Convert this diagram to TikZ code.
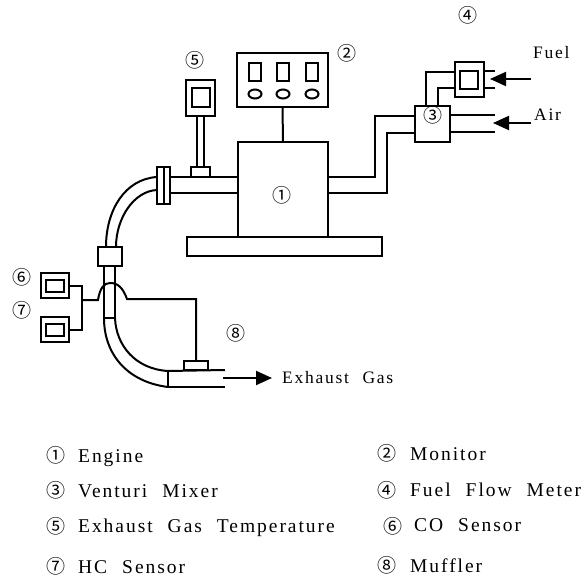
\documentclass[tikz,border=0pt]{standalone}
\usepackage{fontspec}
\setmainfont{Liberation Serif}
\newfontfamily\circfont{Noto Sans CJK JP}
\newfontfamily\lblfont[LetterSpace=10,WordSpace=2.2]{Liberation Serif}
\usetikzlibrary{arrows.meta,shapes.geometric}
\tikzset{
  ln/.style={line width=2pt,line join=miter},
  box/.style={draw,line width=2pt,rectangle,inner sep=0pt,outer sep=0pt},
  wbox/.style={box,fill=white},
  oval/.style={draw,line width=2pt,ellipse,inner sep=0pt,outer sep=0pt},
  flow/.style={line width=2pt,-{Triangle[length=16pt,width=14pt]}},
  num/.style={inner sep=0pt,font=\circfont\fontsize{19}{19}\selectfont},
  lbl/.style={inner sep=0pt,anchor=base west,font=\lblfont\fontsize{17.5}{20}\selectfont},
  leg/.style={lbl,font=\lblfont\fontsize{19.5}{21}\selectfont},
}
\begin{document}
\begin{tikzpicture}[x=1pt,y=-1pt]
\useasboundingbox (0,0) rectangle (586,580);
% --- base and engine
\node[box,minimum width=195pt,minimum height=19pt] (base) at (284.5,246.5) {};
\node[wbox,minimum width=90pt,minimum height=95pt] (engine) at (283,189.5) {};
\node[num] (n1) at (282,195) {①};
% --- monitor
\node[box,minimum width=91pt,minimum height=54pt] (monitor) at (282.5,80) {};
\foreach \cx/\i in {255/a,283/b,312/c}{
  \node[box,minimum width=12pt,minimum height=18pt] (d\i) at (\cx,72) {};
  \node[oval,minimum width=13pt,minimum height=9pt] (o\i) at (\cx,94) {};
}
\draw[ln] (monitor.south) -- (engine.north);
\node[num] (n2) at (347,53) {②};
% --- temperature sensor
\node[box,minimum width=29pt,minimum height=36pt] (ts) at (200.5,98) {};
\node[box,minimum width=18pt,minimum height=19pt] (tsi) at (201,97.5) {};
\node[wbox,minimum width=19pt,minimum height=10pt] (tsb) at (200.5,172) {};
\coordinate (tsbl) at ([xshift=-3.5pt]tsb.north);
\coordinate (tsbr) at ([xshift=3.5pt]tsb.north);
\draw[ln] (tsbl) -- (tsbl |- ts.south);
\draw[ln] (tsbr) -- (tsbr |- ts.south);
\node[num] (n5) at (195,60) {⑤};
% --- exhaust pipe to flange
\node[box,minimum width=13pt,minimum height=37pt] (fl) at (163.5,185.5) {};
\draw[ln] (fl.north) -- (fl.south);
\coordinate (eu) at (238,177);
\coordinate (el) at (238,193);
\draw[ln] (eu) -- (eu -| fl.east);
\draw[ln] (el) -- (el -| fl.east);
% --- coupling and bends
\node[box,minimum width=24pt,minimum height=19pt] (cp) at (110,256.5) {};
\coordinate (ful) at (157,177);
\coordinate (fll) at (157,190);
\coordinate (cul) at (106,247);
\coordinate (cur) at (116,247);
\draw[ln] (ful) .. controls (125,179) and (106,210) .. (cul);
\draw[ln] (fll) .. controls (134,191) and (116,218) .. (cur);
% --- lower tube
\coordinate (tl) at (104,318);
\coordinate (tr) at (115,318);
\draw[ln] (tl |- cp.south) -- (tl);
\draw[ln] (tr |- cp.south) -- (tr);
\draw[ln] (tl) -- (tr);
% --- muffler
\coordinate (mul) at (168,371);
\coordinate (mll) at (168,387);
\draw[ln] (tl) .. controls (104,355) and (128,382) .. (mll);
\draw[ln] (tr) .. controls (116,345) and (135,369) .. (mul);
\coordinate (mur) at (225,370);
\coordinate (mlr) at (225,387);
\draw[ln] (mul) -- (mll);
\draw[ln] (mul) -- (mur);
\draw[ln] (mll) -- (mlr);
\node[wbox,minimum width=24pt,minimum height=9pt] (mb) at (196,365.5) {};
\node[num] (n8) at (236,333) {⑧};
\coordinate (ex0) at (223,378);
\coordinate (ex1) at (272,378);
\draw[flow] (ex0) -- (ex1);
\node[lbl] (exh) at (282,383) {Exhaust Gas};
% --- gas sensors
\node[box,minimum width=28pt,minimum height=25pt] (s6) at (55,285.5) {};
\node[box,minimum width=18pt,minimum height=12pt] (s6i) at (55,286) {};
\node[box,minimum width=28pt,minimum height=25pt] (s7) at (55,329.5) {};
\node[box,minimum width=18pt,minimum height=12pt] (s7i) at (55,330) {};
\node[num] (n6) at (22,277) {⑥};
\node[num] (n7) at (22,310) {⑦};
\coordinate (bus) at (82,300);
\coordinate (hopl) at (98,300);
\coordinate (hopr) at (127,299);
\draw[ln] (s6.east) -- (s6.east -| bus) -- (s7.east -| bus) -- (s7.east);
\draw[ln] (bus) -- (hopl)
  .. controls (100,288) and (104,283) .. (110,283)
  .. controls (118,283) and (123,288) .. (hopr) -- (196,299) -- (mb.north);
% --- intake to mixer
\node[box,minimum width=35pt,minimum height=36pt] (mix) at (432.5,124) {};
\node[num] (n3) at (433,115) {③};
\coordinate (iu) at (328,177);
\coordinate (il) at (328,193);
\draw[ln] (iu) -- (375,177) -- (375,116) -- (375,116 -| mix.west);
\draw[ln] (il) -- (387,193) -- (387,133) -- (387,133 -| mix.west);
% --- fuel flow meter
\node[box,minimum width=29pt,minimum height=35pt] (ff) at (469.5,79.5) {};
\node[box,minimum width=18pt,minimum height=18pt] (ffi) at (469,80) {};
\node[num] (n4) at (468,15) {④};
\coordinate (ma) at (426,106);
\coordinate (mc) at (438,106);
\draw[ln] (ma) -- (426,72) -- (426,72 -| ff.west);
\draw[ln] (mc) -- (438,88) -- (438,88 -| ff.west);
\coordinate (fs1) at (495,71);
\coordinate (fs2) at (495,88);
\draw[ln] (fs1 -| ff.east) -- (fs1);
\draw[ln] (fs2 -| ff.east) -- (fs2);
\coordinate (fa0) at (531,79);
\coordinate (fa1) at (490,79);
\draw[flow] (fa0) -- (fa1);
\node[lbl] (fuel) at (533,59) {Fuel};
% --- air
\coordinate (as1) at (495,115);
\coordinate (as2) at (495,132);
\draw[ln] (as1 -| mix.east) -- (as1);
\draw[ln] (as2 -| mix.east) -- (as2);
\coordinate (aa0) at (531,123);
\coordinate (aa1) at (493,123);
\draw[flow] (aa0) -- (aa1);
\node[lbl] (air) at (534,121) {Air};
% --- legend
\node[num] (l1) at (56,455) {①};
\node[leg] (t1) at (78,462) {Engine};
\node[num] (l2) at (387,453) {②};
\node[leg] (t2) at (410,460) {Monitor};
\node[num] (l3) at (56,490) {③};
\node[leg] (t3) at (78,497) {Venturi Mixer};
\node[num] (l4) at (387,490) {④};
\node[leg] (t4) at (410,496) {Fuel Flow Meter};
\node[num] (l5) at (56,526) {⑤};
\node[leg] (t5) at (78,532) {Exhaust Gas Temperature};
\node[num] (l6) at (393,526) {⑥};
\node[leg] (t6) at (414,531) {CO Sensor};
\node[num] (l7) at (56,566) {⑦};
\node[leg] (t7) at (78,573) {HC Sensor};
\node[num] (l8) at (387,565) {⑧};
\node[leg] (t8) at (410,572) {Muffler};
\end{tikzpicture}
\end{document}
